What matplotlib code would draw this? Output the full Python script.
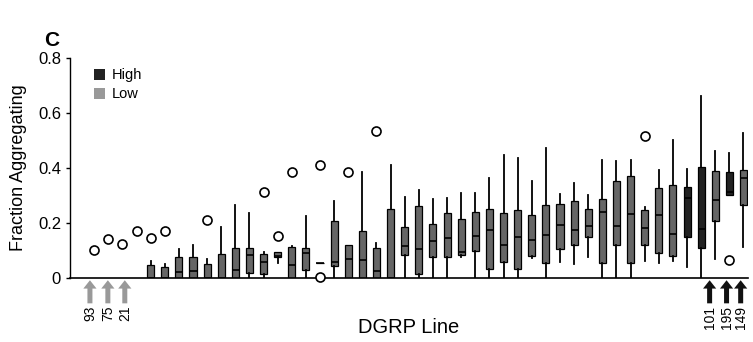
import numpy as np
import matplotlib
matplotlib.use("Agg")
import matplotlib.pyplot as plt
from matplotlib.patches import Patch

plt.rcParams["font.family"] = ["Liberation Sans", "DejaVu Sans"]

# per-line box statistics (index = DGRP line position, sorted by median)
q1 = [None, None, None, None, 0.0, 0.0, 0.0, 0.0, 0.0, 0.0,
      0.0, 0.019, 0.013, 0.075, 0.0, 0.029, 0.055, 0.045, 0.0, 0.0,
      0.0, 0.0, 0.085, 0.013, 0.075, 0.075, 0.084, 0.098, 0.032, 0.060,
      0.032, 0.081, 0.055, 0.107, 0.121, 0.150, 0.053, 0.119, 0.056, 0.119,
      0.092, 0.079, 0.150, 0.109, 0.207, 0.301, 0.264]
med = [None, None, None, None, 0.0, 0.0, 0.022, 0.025, 0.0, 0.0,
       0.031, 0.083, 0.057, 0.082, 0.047, 0.091, 0.055, 0.058, 0.069, 0.067,
       0.025, 0.0, 0.118, 0.105, 0.135, 0.145, 0.095, 0.153, 0.175, 0.122,
       0.149, 0.137, 0.156, 0.192, 0.175, 0.189, 0.241, 0.189, 0.232, 0.182,
       0.229, 0.162, 0.292, 0.179, 0.284, 0.314, 0.365]
q3 = [None, None, None, None, 0.047, 0.039, 0.076, 0.076, 0.051, 0.087,
      0.111, 0.108, 0.086, 0.093, 0.113, 0.110, 0.055, 0.206, 0.121, 0.171,
      0.108, 0.252, 0.185, 0.263, 0.198, 0.238, 0.213, 0.242, 0.252, 0.235,
      0.248, 0.228, 0.265, 0.269, 0.281, 0.253, 0.287, 0.353, 0.371, 0.248,
      0.328, 0.339, 0.333, 0.404, 0.390, 0.385, 0.394]
whis_lo = [None, None, None, None, 0.0, 0.0, 0.0, 0.0, 0.0, 0.0,
           0.0, 0.0, 0.0, 0.055, 0.0, 0.0, 0.055, 0.0, 0.0, 0.0,
           0.0, 0.0, 0.0, 0.0, 0.0, 0.0, 0.078, 0.0, 0.0, 0.0,
           0.0, 0.072, 0.0, 0.060, 0.050, 0.078, 0.0, 0.0, 0.0, 0.063,
           0.056, 0.062, 0.039, 0.0, 0.068, 0.301, 0.114]
whis_hi = [None, None, None, None, 0.063, 0.052, 0.104, 0.122, 0.069, 0.185,
           0.265, 0.235, 0.096, 0.093, 0.117, 0.224, 0.055, 0.281, 0.121, 0.387,
           0.128, 0.413, 0.296, 0.321, 0.286, 0.292, 0.310, 0.308, 0.364, 0.447,
           0.437, 0.353, 0.474, 0.307, 0.344, 0.302, 0.431, 0.424, 0.431, 0.260,
           0.392, 0.503, 0.396, 0.663, 0.462, 0.455, 0.526]
outliers = {0: [0.102], 1: [0.142], 2: [0.124], 3: [0.172], 4: [0.145], 5: [0.172],
            8: [0.211], 12: [0.314], 13: [0.154], 14: [0.387], 16: [0.41, 0.005],
            18: [0.385], 20: [0.536], 39: [0.516], 45: [0.067]}
group = ["mid"] * 42 + ["high", "high", "mid", "high", "mid"]

low_labels = ["93", "75", "21"]
low_arrow_x = [-0.3, 0.97, 2.17]
high_labels = ["101", "195", "149"]
high_arrow_x = [43.6, 44.8, 45.8]

colors = {"mid": "#666666", "high": "#222222"}

fig = plt.figure(figsize=(7.53, 3.42), dpi=100)
ax = fig.add_axes([0.093, 0.187, 0.900, 0.643])

n = len(group)
for i in range(n):
    if q1[i] is None:
        continue
    st = dict(med=med[i], q1=q1[i], q3=q3[i], whislo=whis_lo[i], whishi=whis_hi[i], fliers=[])
    ax.bxp([st], positions=[i], widths=0.5, patch_artist=True, showcaps=False,
           boxprops=dict(facecolor=colors[group[i]], edgecolor="black", linewidth=0.9),
           whiskerprops=dict(color="black", linewidth=1.3),
           medianprops=dict(color="black", linewidth=1.2),
           manage_ticks=False)

for i, vals in outliers.items():
    ax.plot([i] * len(vals), vals, "o", markersize=6.5, markerfacecolor="white",
            markeredgecolor="black", markeredgewidth=1.2, clip_on=False, zorder=5)

ax.set_xlim(-1.71, 46.3)
ax.set_ylim(0, 0.8)
ax.set_yticks([0, 0.2, 0.4, 0.6, 0.8])
ax.set_yticklabels(["0", "0.2", "0.4", "0.6", "0.8"], fontsize=12)
ax.set_xticks([])
ax.tick_params(axis="y", length=3, width=1)
for s in ["top", "right"]:
    ax.spines[s].set_visible(False)
ax.spines["left"].set_linewidth(1)
ax.spines["bottom"].set_linewidth(1.2)

ax.set_ylabel("Fraction Aggregating", fontsize=13, labelpad=8)
ax.set_xlabel("DGRP Line", fontsize=14.5, labelpad=29)

def arrows(xs, labels, color):
    for x, lab in zip(xs, labels):
        ax.annotate("", xy=(x, -0.01), xycoords=("data", "axes fraction"),
                    xytext=(x, -0.115), textcoords=("data", "axes fraction"),
                    arrowprops=dict(facecolor=color, edgecolor="none", width=3.6,
                                    headwidth=9.5, headlength=6), annotation_clip=False)
        ax.text(x, -0.125, lab, rotation=90, ha="center", va="top", fontsize=10,
                transform=ax.get_xaxis_transform(), clip_on=False)

arrows(low_arrow_x, low_labels, "#999999")
arrows(high_arrow_x, high_labels, "#111111")

handles = [Patch(facecolor="#222222", edgecolor="none"), Patch(facecolor="#999999", edgecolor="none")]
ax.legend(handles, ["High", "Low"], loc="upper left", bbox_to_anchor=(0.02, 1.0),
          frameon=False, fontsize=10.5, handlelength=0.8, handleheight=0.8,
          handletextpad=0.45, labelspacing=0.35, borderpad=0.2)

fig.text(0.068, 0.883, "C", fontsize=15, fontweight="bold", ha="center", va="center")

fig.savefig("out.png", dpi=100)
